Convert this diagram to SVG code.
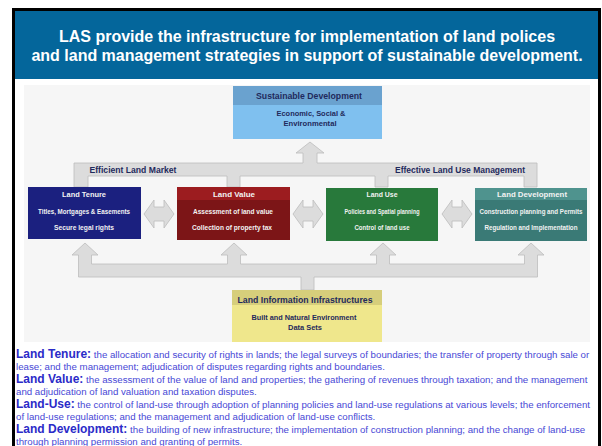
<svg xmlns="http://www.w3.org/2000/svg" width="602" height="446" viewBox="0 0 602 446">
  <style>
    .title { font-family: "Liberation Sans", Arial, sans-serif; font-weight: bold; font-size: 16px; fill: #ffffff; }
    .lbl { font-family: "Liberation Sans", Arial, sans-serif; font-weight: bold; text-anchor: middle; }
    .dark { fill: #1f2a5c; }
    .light { fill: #f2f2f2; }
    .conn { fill: #dcdcdc; stroke: #bdbdbd; stroke-width: 0.8; }
    .para { font-family: "Liberation Sans", Arial, sans-serif; font-size: 9.7px; fill: #4848d6; }
    .term { font-weight: bold; font-size: 12px; fill: #2b2bc8; }
  </style>
  <defs>
    <path id="dbl" d="M0,14 L10,0 L10,7 L20,7 L20,0 L30,14 L20,28 L20,21 L10,21 L10,28 Z"/>
  </defs>

  <!-- page -->
  <rect x="0" y="0" width="602" height="446" fill="#ffffff"/>
  <rect x="13.5" y="9.5" width="586" height="440" fill="#ffffff" stroke="#000000" stroke-width="3"/>

  <!-- heading band -->
  <g id="heading">
    <rect x="15" y="11" width="583" height="68" fill="#04669b"/>
    <text class="title" x="307" y="42" text-anchor="middle">LAS provide the infrastructure for implementation of land polices</text>
    <text class="title" x="307" y="61" text-anchor="middle">and land management strategies in support of sustainable development.</text>
  </g>

  <!-- diagram backdrop -->
  <rect x="24" y="85" width="566" height="257" fill="#f6f6f6"/>

  <!-- connectors -->
  <g id="connectors">
    <polygon class="conn" points="74,187 74,163 303,163 303,153 296,153 310,142 324,153 317,153 317,163 537,163 537,187 524,187 524,176 388,176 388,187 375,187 375,176 240,176 240,187 227,187 227,176 88,176 88,187"/>
    <polygon class="conn" points="78.5,277 78.5,255 72,255 85,243 98,255 91.5,255 91.5,264 227.5,264 227.5,255 221,255 234,243 247,255 240.5,255 240.5,264 376.5,264 376.5,255 370,255 383,243 396,255 389.5,255 389.5,264 524.5,264 524.5,255 518,255 531,243 544,255 537.5,255 537.5,277 314,277 314,290 301,290 301,277"/>
    <use href="#dbl" class="conn" x="144" y="200"/>
    <use href="#dbl" class="conn" x="293" y="200"/>
    <use href="#dbl" class="conn" x="442" y="200"/>
    <text class="lbl dark" x="133" y="173" font-size="8.6" textLength="87" lengthAdjust="spacingAndGlyphs">Efficient Land Market</text>
    <text class="lbl dark" x="460" y="172.5" font-size="8.6" textLength="130" lengthAdjust="spacingAndGlyphs">Effective Land Use Management</text>
  </g>

  <!-- top goal -->
  <g id="sustainable-development">
    <rect x="233" y="86" width="149" height="53" fill="#7fc0ef"/>
    <rect x="233" y="86" width="149" height="19" fill="#6aa2cf"/>
    <text class="lbl dark" x="309" y="98.5" font-size="8.3" textLength="106" lengthAdjust="spacingAndGlyphs">Sustainable Development</text>
    <text class="lbl dark" x="311" y="116" font-size="7" textLength="69" lengthAdjust="spacingAndGlyphs">Economic, Social &amp;</text>
    <text class="lbl dark" x="310" y="126" font-size="7" textLength="53" lengthAdjust="spacingAndGlyphs">Environmental</text>
  </g>

  <g id="land-tenure">
    <rect x="28" y="187" width="113" height="52" fill="#1b207f"/>
    <text class="lbl light" x="84" y="196.5" font-size="7.3" textLength="44" lengthAdjust="spacingAndGlyphs">Land Tenure</text>
    <text class="lbl light" x="84" y="214" font-size="6.4" textLength="92" lengthAdjust="spacingAndGlyphs">Titles, Mortgages &amp; Easements</text>
    <text class="lbl light" x="84" y="229.5" font-size="6.4" textLength="60" lengthAdjust="spacingAndGlyphs">Secure legal rights</text>
  </g>

  <g id="land-value">
    <rect x="177" y="187" width="113" height="53" fill="#7c1517"/>
    <rect x="177" y="187" width="113" height="13" fill="#9c1c1f"/>
    <text class="lbl light" x="234" y="196.5" font-size="7.3" textLength="42" lengthAdjust="spacingAndGlyphs">Land Value</text>
    <text class="lbl light" x="233" y="214" font-size="6.4" textLength="80" lengthAdjust="spacingAndGlyphs">Assessment of land value</text>
    <text class="lbl light" x="232" y="229.5" font-size="6.4" textLength="80" lengthAdjust="spacingAndGlyphs">Collection of property tax</text>
  </g>

  <g id="land-use">
    <rect x="326" y="188" width="112" height="53" fill="#28793b"/>
    <text class="lbl light" x="382" y="196.5" font-size="7.3" textLength="31" lengthAdjust="spacingAndGlyphs">Land Use</text>
    <text class="lbl light" x="382" y="213.5" font-size="6.4" textLength="75" lengthAdjust="spacingAndGlyphs">Policies and Spatial planning</text>
    <text class="lbl light" x="382" y="229.5" font-size="6.4" textLength="55" lengthAdjust="spacingAndGlyphs">Control of land use</text>
  </g>

  <g id="land-development">
    <rect x="475" y="188" width="112" height="53" fill="#3a7a76"/>
    <rect x="475" y="188" width="112" height="12" fill="#4f938e"/>
    <text class="lbl light" x="532" y="196.5" font-size="7.3" textLength="70" lengthAdjust="spacingAndGlyphs">Land Development</text>
    <text class="lbl light" x="531" y="214" font-size="6.4" textLength="103" lengthAdjust="spacingAndGlyphs">Construction planning and Permits</text>
    <text class="lbl light" x="531" y="229.5" font-size="6.4" textLength="93" lengthAdjust="spacingAndGlyphs">Regulation and Implementation</text>
  </g>

  <g id="land-information">
    <rect x="232" y="290" width="150" height="52" fill="#efe78c"/>
    <rect x="232" y="290" width="150" height="15" fill="#d6ce7b"/>
    <text class="lbl dark" x="305" y="302.5" font-size="8.3" textLength="135" lengthAdjust="spacingAndGlyphs">Land Information Infrastructures</text>
    <text class="lbl dark" x="304" y="320" font-size="7" textLength="105" lengthAdjust="spacingAndGlyphs">Built and Natural Environment</text>
    <text class="lbl dark" x="305" y="329.5" font-size="7" textLength="34" lengthAdjust="spacingAndGlyphs">Data Sets</text>
  </g>

  <!-- definitions -->
  <g id="definitions">
    <text class="para" x="16" y="358"><tspan class="term">Land Tenure:</tspan> the allocation and security of rights in lands; the legal surveys of boundaries; the transfer of property through sale or</text>
    <text class="para" x="16" y="370">lease; and the management; adjudication of disputes regarding rights and boundaries.</text>
    <text class="para" x="16" y="383"><tspan class="term">Land Value:</tspan> the assessment of the value of land and properties; the gathering of revenues through taxation; and the management</text>
    <text class="para" x="16" y="395">and adjudication of land valuation and taxation disputes.</text>
    <text class="para" x="16" y="408"><tspan class="term">Land-Use:</tspan> the control of land-use through adoption of planning policies and land-use regulations at various levels; the enforcement</text>
    <text class="para" x="16" y="420">of land-use regulations; and the management and adjudication of land-use conflicts.</text>
    <text class="para" x="16" y="433"><tspan class="term">Land Development:</tspan> the building of new infrastructure; the implementation of construction planning; and the change of land-use</text>
    <text class="para" x="16" y="445">through planning permission and granting of permits.</text>
  </g>
</svg>
